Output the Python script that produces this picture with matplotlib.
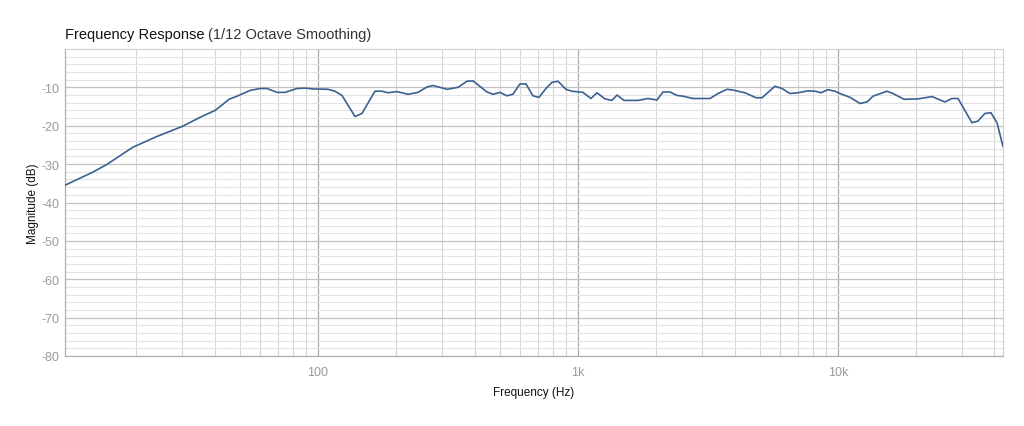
import numpy as np
import matplotlib
matplotlib.use('Agg')
import matplotlib.pyplot as plt
from matplotlib.ticker import FixedLocator, NullFormatter, LogLocator

plt.rcParams['font.family'] = ['Liberation Sans', 'DejaVu Sans']
plt.rcParams['axes.unicode_minus'] = False

# frequency response (Hz, dB)
freqHz = [10.64, 13.6, 15.4, 19.4, 24.0, 30.0, 35.2, 40.2, 43.1, 45.5,
          48.8, 54.8, 59.8, 63.7, 69.6, 74.7, 83.0, 89.1, 95.7, 109.3,
          116.2, 123.7, 138.8, 147.6, 165.6, 176.3, 185.9, 201.3, 222, 242.4,
          262.6, 276.9, 313.4, 345.4, 374.2, 394.7, 446.7, 471, 501, 533,
          562, 598, 631, 671, 708, 753, 794, 838, 899, 948,
          1045, 1122, 1183, 1270, 1351, 1413, 1503, 1701, 1859, 2013,
          2123, 2259, 2403, 2535, 2769, 3219, 3455, 3744, 3947, 4387,
          4838, 5104, 5725, 6092, 6538, 7019, 7669, 8163, 8605, 9154,
          9734, 10180, 11130, 12150, 12930, 13640, 15430, 16280, 17950, 20320,
          23000, 25800, 27420, 28960, 32750, 34530, 36740, 38740, 40900, 43130]
magDb = [-35.5, -32.1, -30.1, -25.6, -22.8, -20.2, -17.8, -16.0, -14.4, -13.1,
         -12.3, -10.8, -10.3, -10.3, -11.3, -11.3, -10.3, -10.2, -10.4, -10.5,
         -11.0, -12.1, -17.6, -16.8, -11.0, -11.0, -11.4, -11.1, -11.8, -11.3,
         -9.9, -9.5, -10.5, -10.0, -8.4, -8.3, -11.2, -11.8, -11.3, -12.2,
         -11.8, -9.1, -9.1, -12.2, -12.6, -10.3, -8.7, -8.4, -10.5, -11.0,
         -11.3, -12.9, -11.4, -13.0, -13.4, -12.0, -13.4, -13.4, -12.9, -13.3,
         -11.2, -11.2, -12.1, -12.3, -12.9, -12.9, -11.6, -10.5, -10.7, -11.4,
         -12.7, -12.7, -9.7, -10.3, -11.6, -11.4, -10.9, -11.0, -11.4, -10.6,
         -11.0, -11.6, -12.6, -14.2, -13.8, -12.3, -11.0, -11.6, -13.1, -13.0,
         -12.4, -13.8, -12.9, -12.9, -19.2, -18.8, -16.8, -16.6, -19.2, -25.4]

xTicks = [100, 1000, 10000]
xTickLabels = ['100', '1k', '10k']
yTicks = [-80, -70, -60, -50, -40, -30, -20, -10]

fig = plt.figure(figsize=(10.24, 4.27), dpi=100)
ax = fig.add_axes([65/1024, 1-357/427, (1003-65)/1024, (357-50)/427])

ax.plot(freqHz, magDb, color='#3b6190', lw=1.2, zorder=3)

ax.set_xscale('log')
ax.set_xlim(10.64, 43130)
ax.set_ylim(-80, 0)

ax.xaxis.set_major_locator(FixedLocator(xTicks))
ax.set_xticklabels(xTickLabels)
ax.xaxis.set_minor_locator(LogLocator(base=10, subs=np.arange(2, 10)))
ax.xaxis.set_minor_formatter(NullFormatter())
ax.yaxis.set_major_locator(FixedLocator(yTicks))
ax.yaxis.set_minor_locator(FixedLocator(np.arange(-78, 1, 2)))

ax.grid(which='major', axis='x', color='#a8a8a8', lw=0.9)
ax.grid(which='minor', axis='x', color='#d6d6d6', lw=0.8)
ax.grid(which='major', axis='y', color='#c2c2c2', lw=0.9)
ax.grid(which='minor', axis='y', color='#e3e3e3', lw=0.8)
ax.set_axisbelow(True)

ax.tick_params(which='both', length=0)
ax.tick_params(axis='y', pad=4, labelsize=9, labelcolor='#9a9a9a')
ax.tick_params(axis='x', pad=7, labelsize=9, labelcolor='#9a9a9a')

for s in ['top', 'right']:
    ax.spines[s].set_color('#d0d0d0')
    ax.spines[s].set_linewidth(0.8)
for s in ['left', 'bottom']:
    ax.spines[s].set_color('#b0b0b0')
    ax.spines[s].set_linewidth(0.9)

ax.set_xlabel('Frequency (Hz)', fontsize=8.5, color='#111111', labelpad=6)
ax.set_ylabel('Magnitude (dB)', fontsize=8.5, color='#111111', labelpad=2)

# two-part title
t1 = fig.text(65/1024, 1-35/427, 'Frequency Response', fontsize=10.5,
              color='#111111', va='center', ha='left')
fig.canvas.draw()
bb = t1.get_window_extent()
x2 = fig.transFigure.inverted().transform((bb.x1 + 3, 0))[0]
fig.text(x2, 1-35/427, '(1/12 Octave Smoothing)', fontsize=10.5,
         color='#333333', va='center', ha='left')

fig.savefig('out.png', dpi=100)
